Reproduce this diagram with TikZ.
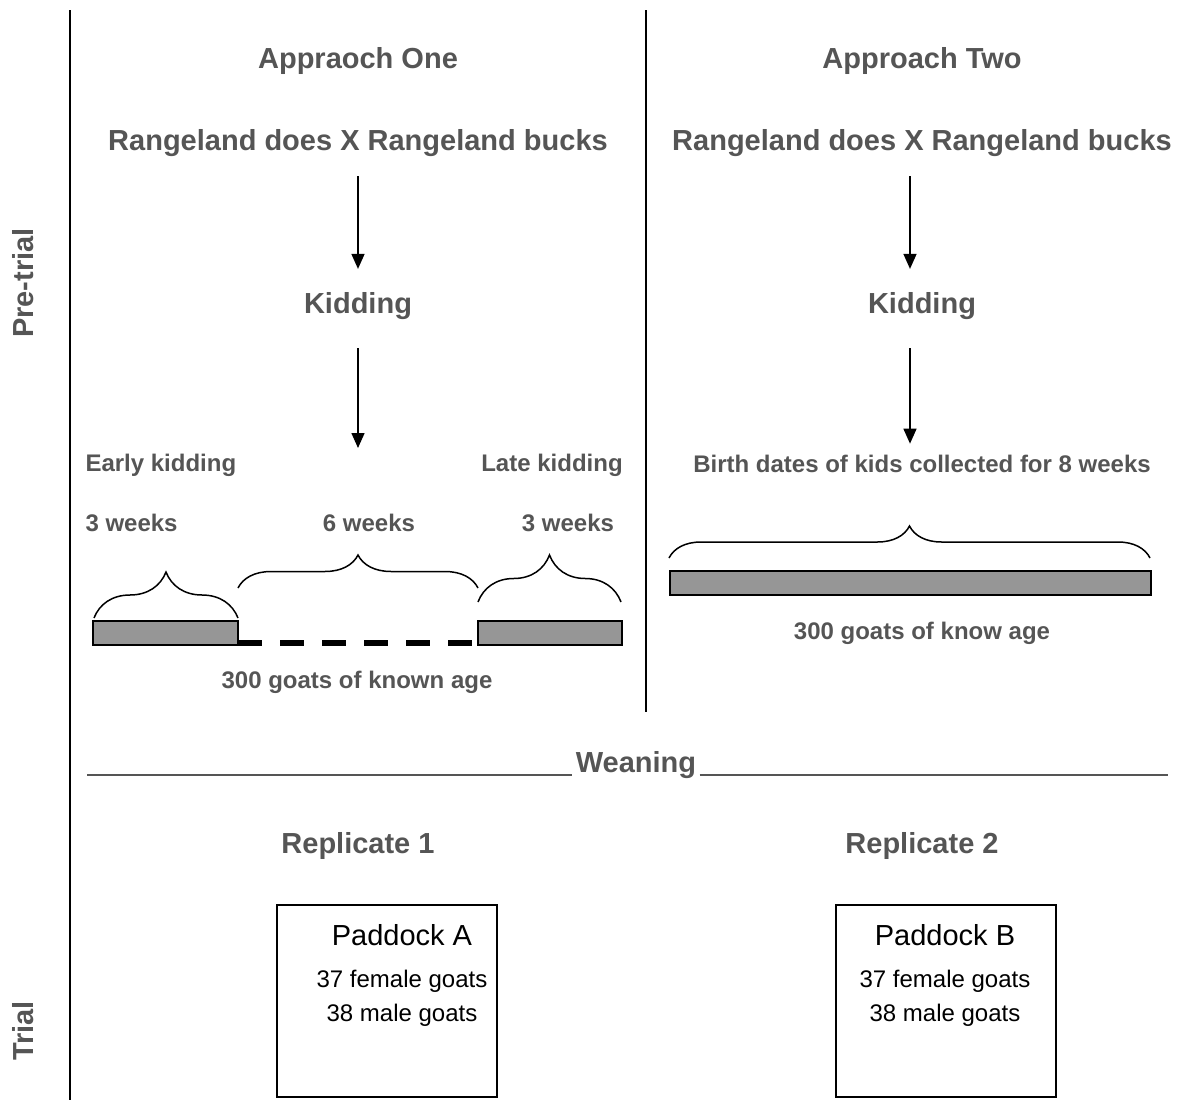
\documentclass[tikz,border=0pt]{standalone}
\usepackage{fontspec}
\setmainfont{Liberation Sans}
\usetikzlibrary{arrows.meta,decorations.pathreplacing}
\definecolor{txtgray}{RGB}{85,85,85}
\definecolor{barfill}{RGB}{150,150,150}
\begin{document}
\begin{tikzpicture}[x=1pt,y=-1pt,
  head/.style={font=\fontsize{29}{34}\selectfont\bfseries,text=txtgray},
  sub/.style={font=\fontsize{24}{28}\selectfont\bfseries,text=txtgray},
  flow/.style={line width=1.5pt,-{Triangle[width=13pt,length=15pt]}},
  bar/.style={draw,line width=2pt,fill=barfill},
  brc/.style={line width=1.5pt,decorate,decoration={brace,amplitude=#1}},
  pad/.style={draw,line width=2pt,minimum width=220pt,minimum height=192pt},
  padtitle/.style={font=\fontsize{29}{34}\selectfont},
  padtext/.style={font=\fontsize{24}{28}\selectfont}]
\useasboundingbox (0,0) rectangle (1184,1100);
% frame
\draw[line width=2pt] (70,10) -- (70,1100);
\draw[line width=2pt] (646,10) -- (646,712);
\node[head,rotate=90] (pre) at (23,283) {Pre-trial};
\node[head,rotate=90] (trial) at (23,1031) {Trial};
% approach one
\node[head] (ap1) at (358,61) {Appraoch One};
\node[head] (cross1) at (358,143) {Rangeland does X Rangeland bucks};
\node[head] (kid1) at (358,306) {Kidding};
\coordinate (split1) at (358,448);
\draw[flow,shorten <=16pt,shorten >=20pt] (cross1) -- (kid1);
\draw[flow,shorten <=25pt] (kid1) -- (split1);
\node[sub,anchor=west] (early) at (82,465) {Early kidding};
\node[sub] (late) at (552,465) {Late kidding};
\node[sub,anchor=west] (wk1) at (82,523) {3 weeks};
\node[sub] (wk2) at (369,523) {6 weeks};
\node[sub] (wk3) at (568,523) {3 weeks};
\draw[brc=46] (94,618) -- (238,618);
\draw[brc=33] (238,588) -- (478,588);
\draw[brc=47] (478,602) -- (621,602);
\draw[bar] (93,621) rectangle (238,645);
\draw[bar] (478,621) rectangle (622,645);
\draw[line width=6pt,dash pattern=on 24pt off 18pt] (238,643) -- (472,643);
\node[sub] (goats1) at (357,682) {300 goats of known age};
% approach two
\coordinate (axis2) at (910,0);
\node[head] (ap2) at (922,61) {Approach Two};
\node[head] (cross2) at (922,143) {Rangeland does X Rangeland bucks};
\node[head] (kid2) at (922,306) {Kidding};
\node[sub] (birth) at (922,464) {Birth dates of kids collected for 8 weeks};
\draw[flow,shorten <=16pt,shorten >=20pt] (cross2.south -| axis2) -- (kid2.north -| axis2);
\draw[flow,shorten <=25pt,shorten >=8pt] (kid2.south -| axis2) -- (birth.north -| axis2);
\draw[brc=32] (669,558) -- (1150,558);
\draw[bar] (670,571) rectangle (1151,595);
\node[sub] (goats2) at (922,633) {300 goats of know age};
% weaning
\node[head] (wean) at (636,765) {Weaning};
\coordinate (wl) at (87,775);
\coordinate (wr) at (1168,775);
\draw[txtgray,line width=2pt] (wl) -- (wl -| wean.west);
\draw[txtgray,line width=2pt] (wr -| wean.east) -- (wr);
% trial
\node[head] (rep1) at (358,846) {Replicate 1};
\node[head] (rep2) at (922,846) {Replicate 2};
\node[pad] (padA) at (387,1001) {};
\node[pad] (padB) at (945.5,1001) {};
\node[padtitle] (padAt) at (402,935) {Paddock A};
\node[padtext] (padAf) at (402,981) {37 female goats};
\node[padtext] (padAm) at (402,1015) {38 male goats};
\node[padtitle] (padBt) at (945,935) {Paddock B};
\node[padtext] (padBf) at (945,981) {37 female goats};
\node[padtext] (padBm) at (945,1015) {38 male goats};
\end{tikzpicture}
\end{document}
